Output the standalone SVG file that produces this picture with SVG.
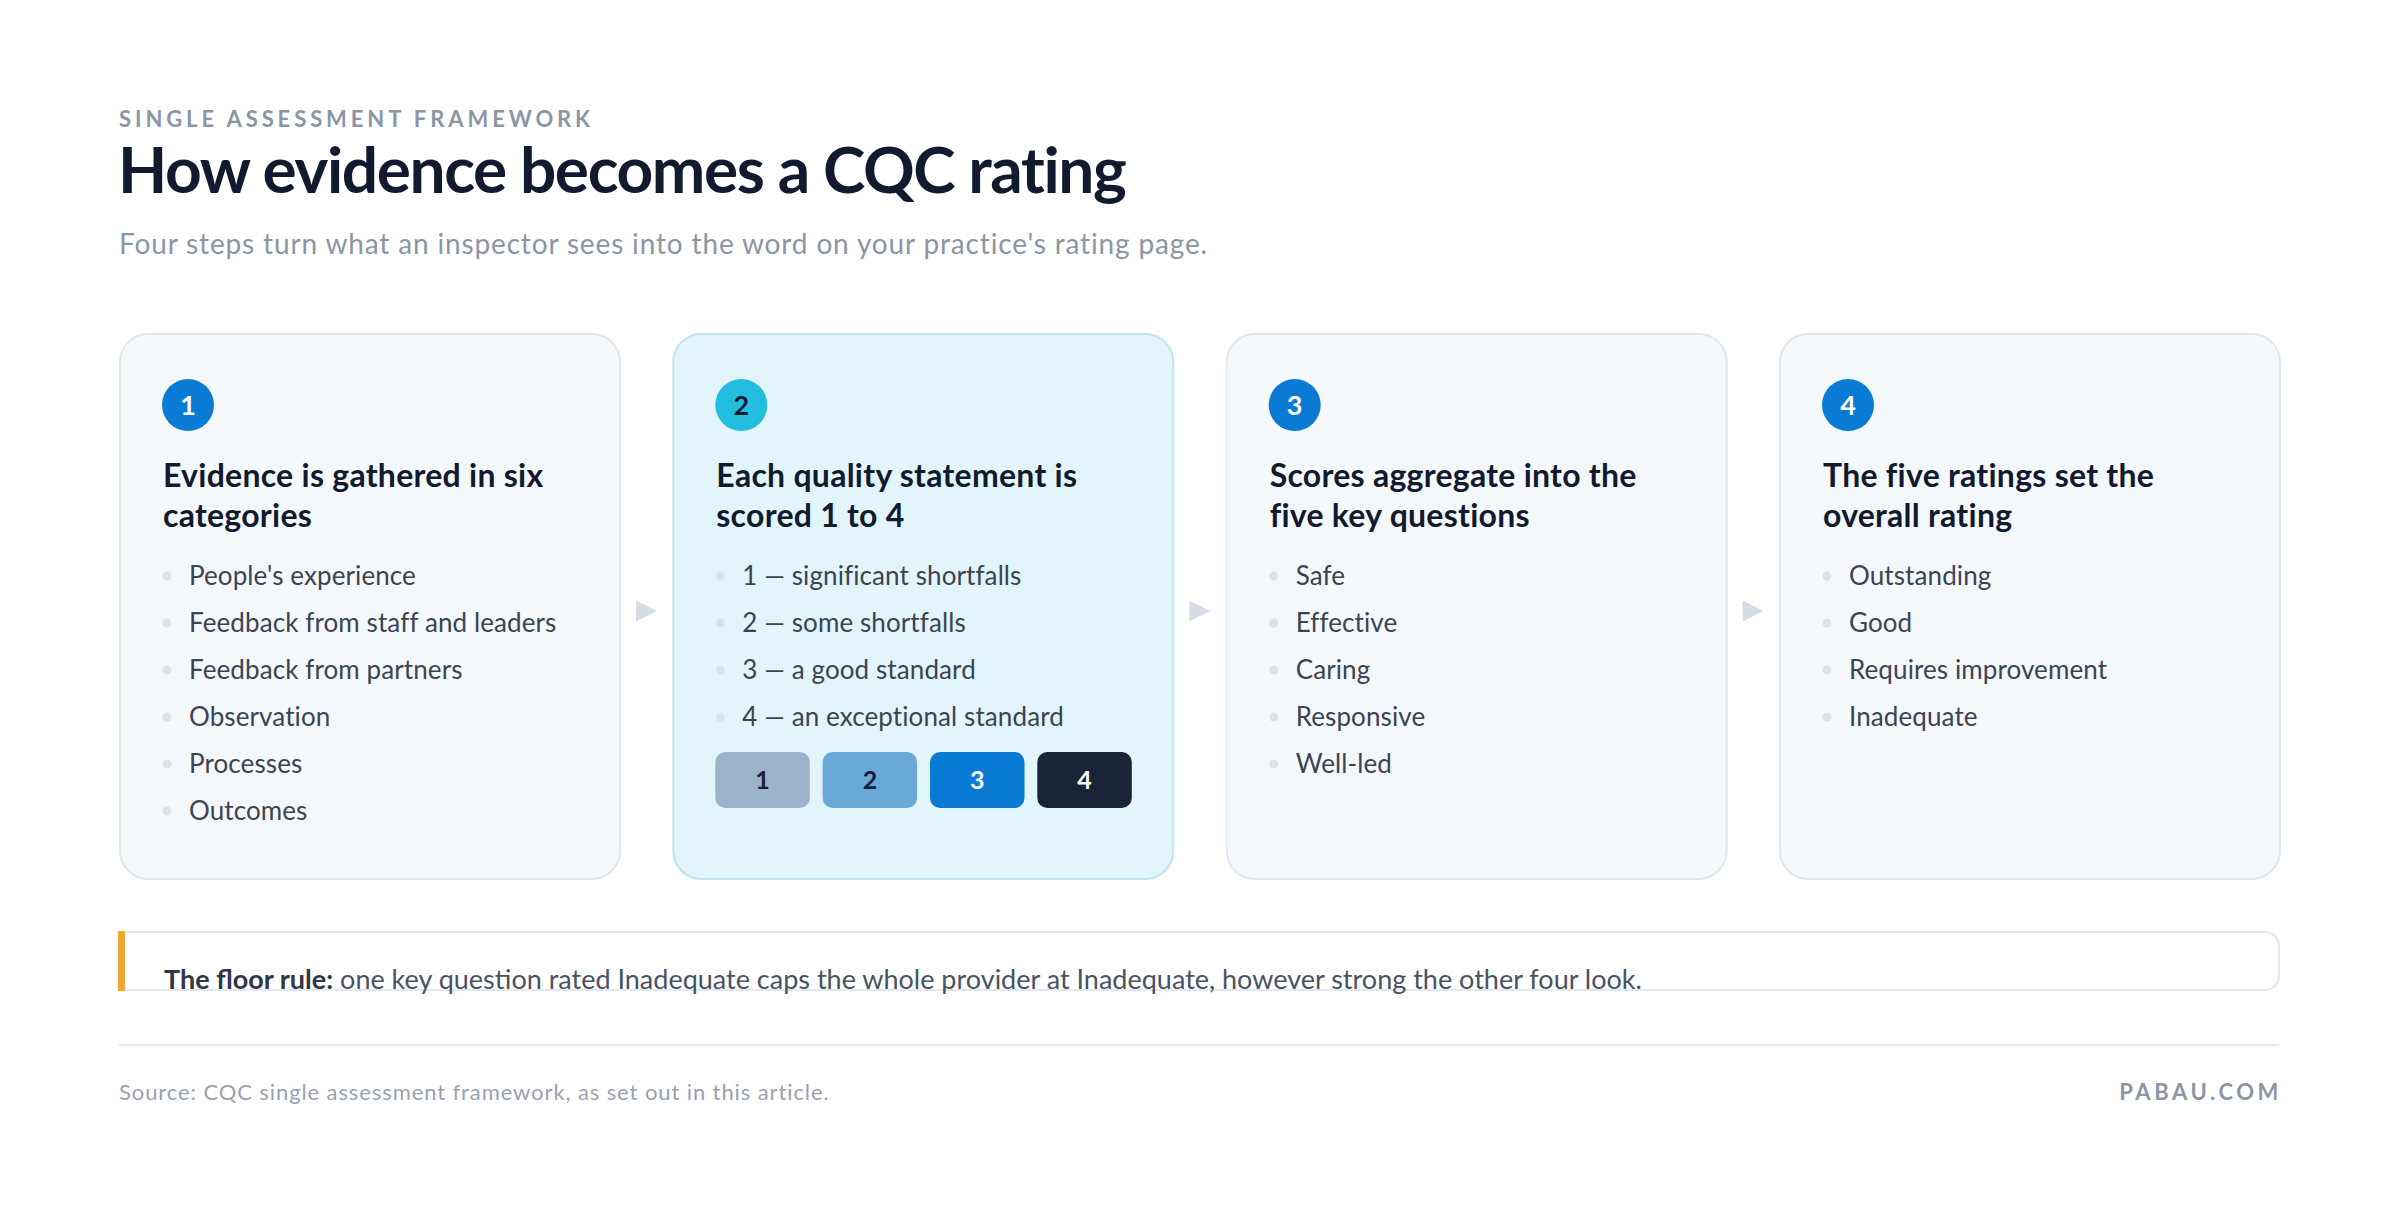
<svg xmlns="http://www.w3.org/2000/svg" width="2400" height="1216" viewBox="0 0 2400 1216">
<style>
.eyebrow{font-family:Lato,"Liberation Sans",sans-serif;font-weight:700;font-size:22px;letter-spacing:3.9px;fill:#8c95a6}
.title{font-family:Lato,"Liberation Sans",sans-serif;font-weight:700;font-size:64px;letter-spacing:-1.4px;fill:#121a30}
.sub{font-family:Lato,"Liberation Sans",sans-serif;font-weight:400;font-size:28px;letter-spacing:0.85px;fill:#8c95a6}
.card{fill:#f4f8fb;stroke:#e1e7ee;stroke-width:2}
.card.hl{fill:#e2f5fa;stroke:#bfe6f0}
.badge{fill:#0a7bd4}
.badge.cy{fill:#23bde0}
.bnum{font-family:Lato,"Liberation Sans",sans-serif;font-weight:700;font-size:27px;fill:#ffffff;text-anchor:middle}
.bnum.dk{fill:#0f1a2e}
.head{font-family:Lato,"Liberation Sans",sans-serif;font-weight:700;font-size:32px;letter-spacing:0.26px;fill:#121a30}
.item{font-family:Lato,"Liberation Sans",sans-serif;font-weight:400;font-size:26px;letter-spacing:0.1px;fill:#3b4354}
.dot{fill:#dde2e9}
.score{font-family:Lato,"Liberation Sans",sans-serif;font-weight:700;font-size:25px;text-anchor:middle}
.arrow{fill:#d6dde7}
.rule{font-family:Lato,"Liberation Sans",sans-serif;font-size:27px;fill:#4a5263}
.src{font-family:Lato,"Liberation Sans",sans-serif;font-weight:400;font-size:22px;letter-spacing:0.9px;fill:#9aa1b0}
.brand{font-family:Lato,"Liberation Sans",sans-serif;font-weight:700;font-size:22px;letter-spacing:3.6px;fill:#8c95a6;text-anchor:end}
</style>
<rect width="2400" height="1216" fill="#ffffff"/>
<g id="header">
<text class="eyebrow" x="119" y="127">SINGLE ASSESSMENT FRAMEWORK</text>
<text class="title" x="118" y="193">How evidence becomes a CQC rating</text>
<text class="sub" x="119" y="254">Four steps turn what an inspector sees into the word on your practice's rating page.</text>
</g>
<g id="card-1">
<rect class="card" x="120" y="334" width="500" height="545" rx="28"/>
<circle class="badge" cx="188" cy="405" r="26"/>
<text class="bnum" x="188" y="415">1</text>
<text class="head" x="163" y="487">Evidence is gathered in six</text>
<text class="head" x="163" y="527">categories</text>
<circle class="dot" cx="167" cy="576" r="4.5"/><text class="item" x="189" y="585">People's experience</text>
<circle class="dot" cx="167" cy="623" r="4.5"/><text class="item" x="189" y="632">Feedback from staff and leaders</text>
<circle class="dot" cx="167" cy="670" r="4.5"/><text class="item" x="189" y="679">Feedback from partners</text>
<circle class="dot" cx="167" cy="717" r="4.5"/><text class="item" x="189" y="726">Observation</text>
<circle class="dot" cx="167" cy="764" r="4.5"/><text class="item" x="189" y="773">Processes</text>
<circle class="dot" cx="167" cy="811" r="4.5"/><text class="item" x="189" y="820">Outcomes</text>
</g>
<g id="card-2">
<rect class="card hl" x="673.3" y="334" width="500" height="545" rx="28"/>
<circle class="badge cy" cx="741.3" cy="405" r="26"/>
<text class="bnum dk" x="741.3" y="415">2</text>
<text class="head" x="716.3" y="487">Each quality statement is</text>
<text class="head" x="716.3" y="527">scored 1 to 4</text>
<circle class="dot" cx="720.3" cy="576" r="4.5"/><text class="item" x="742.3" y="585">1 — significant shortfalls</text>
<circle class="dot" cx="720.3" cy="623" r="4.5"/><text class="item" x="742.3" y="632">2 — some shortfalls</text>
<circle class="dot" cx="720.3" cy="670" r="4.5"/><text class="item" x="742.3" y="679">3 — a good standard</text>
<circle class="dot" cx="720.3" cy="717" r="4.5"/><text class="item" x="742.3" y="726">4 — an exceptional standard</text>
<rect x="715.3" y="752" width="94.5" height="56" rx="10" fill="#9bb3c9"/>
<text class="score" x="762.5" y="789" fill="#16203a">1</text>
<rect x="822.6" y="752" width="94.5" height="56" rx="10" fill="#6aa8d8"/>
<text class="score" x="869.9" y="789" fill="#16203a">2</text>
<rect x="930" y="752" width="94.5" height="56" rx="10" fill="#0a7bd4"/>
<text class="score" x="977.2" y="789" fill="#ffffff">3</text>
<rect x="1037.3" y="752" width="94.5" height="56" rx="10" fill="#1a2338"/>
<text class="score" x="1084.6" y="789" fill="#ffffff">4</text>
</g>
<g id="card-3">
<rect class="card" x="1226.7" y="334" width="500" height="545" rx="28"/>
<circle class="badge" cx="1294.7" cy="405" r="26"/>
<text class="bnum" x="1294.7" y="415">3</text>
<text class="head" x="1269.7" y="487">Scores aggregate into the</text>
<text class="head" x="1269.7" y="527">five key questions</text>
<circle class="dot" cx="1273.7" cy="576" r="4.5"/><text class="item" x="1295.7" y="585">Safe</text>
<circle class="dot" cx="1273.7" cy="623" r="4.5"/><text class="item" x="1295.7" y="632">Effective</text>
<circle class="dot" cx="1273.7" cy="670" r="4.5"/><text class="item" x="1295.7" y="679">Caring</text>
<circle class="dot" cx="1273.7" cy="717" r="4.5"/><text class="item" x="1295.7" y="726">Responsive</text>
<circle class="dot" cx="1273.7" cy="764" r="4.5"/><text class="item" x="1295.7" y="773">Well-led</text>
</g>
<g id="card-4">
<rect class="card" x="1780" y="334" width="500" height="545" rx="28"/>
<circle class="badge" cx="1848" cy="405" r="26"/>
<text class="bnum" x="1848" y="415">4</text>
<text class="head" x="1823" y="487">The five ratings set the</text>
<text class="head" x="1823" y="527">overall rating</text>
<circle class="dot" cx="1827" cy="576" r="4.5"/><text class="item" x="1849" y="585">Outstanding</text>
<circle class="dot" cx="1827" cy="623" r="4.5"/><text class="item" x="1849" y="632">Good</text>
<circle class="dot" cx="1827" cy="670" r="4.5"/><text class="item" x="1849" y="679">Requires improvement</text>
<circle class="dot" cx="1827" cy="717" r="4.5"/><text class="item" x="1849" y="726">Inadequate</text>
</g>
<g id="connectors">
<polygon class="arrow" points="636,600.5 657,611 636,621.5"/>
<polygon class="arrow" points="1189.3,600.5 1210.3,611 1189.3,621.5"/>
<polygon class="arrow" points="1742.6,600.5 1763.6,611 1742.6,621.5"/>
</g>
<g id="floor-rule">
<path d="M119,932 H2265 A14,14 0 0 1 2279,946 V976 A14,14 0 0 1 2265,990 H119 Z" fill="#ffffff" stroke="#e3e8ee" stroke-width="2"/>
<rect x="118" y="931" width="7" height="60" fill="#f2a532"/>
<text class="rule" x="164" y="989"><tspan font-weight="700" fill="#2f3747">The floor rule:</tspan> one key question rated Inadequate caps the whole provider at Inadequate, however strong the other four look.</text>
</g>
<g id="footer">
<line x1="119" y1="1045" x2="2279" y2="1045" stroke="#e3e8ee" stroke-width="2"/>
<text class="src" x="119" y="1100">Source: CQC single assessment framework, as set out in this article.</text>
<text class="brand" x="2282" y="1100">PABAU.COM</text>
</g>
</svg>
